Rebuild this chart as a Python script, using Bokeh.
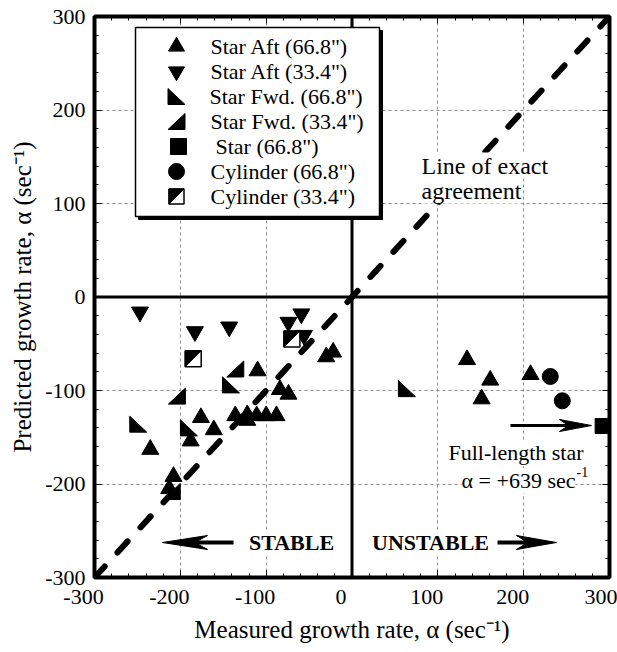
from bokeh.plotting import figure
from bokeh.models import Range1d, LinearAxis, SingleIntervalTicker, Span, Label
from bokeh.embed import file_html
from bokeh.resources import INLINE

# ---------------- data ----------------
star_aft_66_x = [-110, -30, -22, -84, -74, -176, -235, -188, -161, -136, -122, -111, -100, -88, -122, -208, -213, 134, 161, 151, 208]
star_aft_66_y = [-79, -64, -59, -99, -104, -129, -163, -154, -142, -127, -126, -127, -127, -127, -132, -192, -205, -67, -89, -109, -83]

star_aft_33_x = [-247, -183, -143, -59, -74, -56]
star_aft_33_y = [-16, -37, -32, -18, -27, -41]

star_fwd_66_x = [-141, -249, -190, 64]
star_fwd_66_y = [-94, -136, -140, -98]

star_fwd_33_x = [-136, -204, -210]
star_fwd_33_y = [-77, -106, -208]

star_66_x = [292]
star_66_y = [-138]

cyl_66_x = [231, 245]
cyl_66_y = [-85, -111]

cyl_33_x = [-185, -70]
cyl_33_y = [-66, -45]

agreement_x = [-300, 300]
agreement_y = [-300, 300]

tick_values = [-300, -200, -100, 0, 100, 200, 300]
x_tick_labels = ["-300", "-200", "-100", "0", "100", "200", "300"]
y_tick_labels = ["-300", "-200", "-100", "0", "100", "200", "300"]

x_title = "Measured growth rate, \u03b1 (sec\u207b\u00b9)"
y_title = "Predicted growth rate, \u03b1 (sec\u207b\u00b9)"
legend_labels = ['Star Aft (66.8")', 'Star Aft (33.4")', 'Star Fwd.  (66.8")',
                 'Star Fwd. (33.4")', 'Star (66.8")', 'Cylinder (66.8")', 'Cylinder (33.4")']

# ---------------- layout ----------------
W, H = 617, 652
BL, BR, BT, BB = 94, 8, 16, 75
FW, FH = W - BL - BR, H - BT - BB
X0, Y0 = BL, BT
XS, YS = FW / 600.0, FH / 600.0


def dx(X):
    return (X - X0) / XS - 300


def dy(Y):
    return 300 - (Y - Y0) / YS


FONT = "Liberation Serif"

p = figure(width=W, height=H, x_range=Range1d(-300, 300), y_range=Range1d(-300, 300),
           output_backend="svg", toolbar_location=None,
           min_border_left=BL, min_border_right=BR, min_border_top=BT, min_border_bottom=BB,
           background_fill_color="white", border_fill_color="white")

ticker = SingleIntervalTicker(interval=100, num_minor_ticks=5)
for ax in (p.xaxis[0], p.yaxis[0]):
    ax.ticker = ticker
    ax.axis_line_color = None
    ax.major_tick_in = 7
    ax.major_tick_out = 0
    ax.minor_tick_in = 4
    ax.minor_tick_out = 0
    ax.major_tick_line_color = "black"
    ax.minor_tick_line_color = "black"
    ax.major_label_text_font = FONT
    ax.major_label_text_font_size = "22px"
    ax.major_label_text_color = "black"
    ax.axis_label_text_font = FONT
    ax.axis_label_text_font_size = "25px"
    ax.axis_label_text_font_style = "normal"
    ax.axis_label_text_color = "black"

p.xaxis.axis_label = x_title
p.yaxis.axis_label = y_title
p.xaxis.major_label_standoff = 6
p.yaxis.major_label_standoff = 9
p.xaxis.axis_label_standoff = 4
p.yaxis.axis_label_standoff = 6
# labels sit slightly left of their ticks in the reference (last one is kept inside the canvas)
p.xaxis.major_label_overrides = {v: (lab + "\u00a0" * 4 if v < 300 else lab)
                                 for v, lab in zip(tick_values, x_tick_labels)}
p.yaxis.major_label_overrides = {v: lab for v, lab in zip(tick_values, y_tick_labels)}

for loc in ("above", "right"):
    ax = LinearAxis(ticker=ticker, axis_line_color=None,
                    major_label_text_font_size="0px", major_label_standoff=0,
                    major_label_overrides={v: "" for v in tick_values},
                    major_tick_in=7, major_tick_out=0, minor_tick_in=4, minor_tick_out=0,
                    major_tick_line_color="black", minor_tick_line_color="black")
    p.add_layout(ax, loc)

p.grid.grid_line_color = "#8c8c8c"
p.grid.grid_line_dash = "3 3"
p.grid.grid_line_width = 1
p.outline_line_color = "black"
p.outline_line_width = 4

p.add_layout(Span(location=0, dimension="height", line_color="black", line_width=3, level="underlay"))
p.add_layout(Span(location=0, dimension="width", line_color="black", line_width=3, level="underlay"))

# line of exact agreement
p.line(agreement_x, agreement_y, line_width=6, line_dash="15 19", line_cap="round", color="black")

# ---------------- markers ----------------
TRI = 17
HX, HY = 8.5 / XS, 8.0 / YS


def draw_star_fwd_66(xs, ys):  # right angle bottom-left
    p.patches([[x - HX, x - HX, x + HX] for x in xs],
              [[y + HY, y - HY, y - HY] for y in ys], color="black")


def draw_star_fwd_33(xs, ys):  # right angle bottom-right
    p.patches([[x + HX, x + HX, x - HX] for x in xs],
              [[y + HY, y - HY, y - HY] for y in ys], color="black")


def draw_cyl_33(xs, ys, size=16):
    p.scatter(xs, ys, marker="square", size=size, fill_color="white", line_color="black", line_width=1.5)
    h, v = (size / 2) / XS, (size / 2) / YS
    p.patches([[x - h, x - h, x + h] for x in xs],
              [[y - v, y + v, y + v] for y in ys], color="black")


p.scatter(star_aft_66_x, star_aft_66_y, marker="triangle", size=TRI, color="black")
p.scatter(star_aft_33_x, star_aft_33_y, marker="inverted_triangle", size=TRI, color="black")
draw_star_fwd_66(star_fwd_66_x, star_fwd_66_y)
draw_star_fwd_33(star_fwd_33_x, star_fwd_33_y)
p.scatter(star_66_x, star_66_y, marker="square", size=15, color="black")
p.scatter(cyl_66_x, cyl_66_y, marker="circle", size=16, color="black")
draw_cyl_33(cyl_33_x, cyl_33_y)

# ---------------- legend ----------------
LX0, LX1, LY0, LY1 = 135, 379, 27, 216
p.quad(left=dx(LX0 + 3), right=dx(LX1 + 3), top=dy(LY0 + 3), bottom=dy(LY1 + 3), color="black")
p.quad(left=dx(LX0), right=dx(LX1), top=dy(LY0), bottom=dy(LY1),
       fill_color="white", line_color="black", line_width=1.5)

rows = [46 + 25 * i for i in range(7)]
text_x = [210, 210, 209, 210, 215, 210, 210]
mx = dx(176)
p.scatter([mx], [dy(rows[0])], marker="triangle", size=16, color="black")
p.scatter([mx], [dy(rows[1])], marker="inverted_triangle", size=16, color="black")
draw_star_fwd_66([mx], [dy(rows[2])])
draw_star_fwd_33([mx], [dy(rows[3])])
p.scatter([dx(178)], [dy(rows[4])], marker="square", size=16, color="black")
p.scatter([mx], [dy(rows[5])], marker="circle", size=16, color="black")
draw_cyl_33([mx], [dy(rows[6])], size=15)

for lab, ry, tx in zip(legend_labels, rows, text_x):
    p.add_layout(Label(x=dx(tx), y=dy(ry), text=lab, text_font=FONT, text_font_size="22px",
                       text_align="left", text_baseline="middle", text_color="black"))

# ---------------- annotations ----------------
def text(X, Y, s, size="22px", align="left", baseline="alphabetic", style="normal", bg="white"):
    p.add_layout(Label(x=dx(X), y=dy(Y), text=s, text_font=FONT, text_font_size=size,
                       text_align=align, text_baseline=baseline, text_font_style=style,
                       text_color="black", background_fill_color=bg))


text(421, 165, "Line of exact", size="24px")
text(421, 190, "agreement", size="24px")
text(515.5, 452, "Full-length star", align="center")
text(575, 480, "\u03b1 = +639 sec", align="right")
text(576, 471, "-1", size="14px", bg=None)
text(291, 542, "STABLE", align="center", baseline="middle", style="bold")
text(430, 542, "UNSTABLE", align="center", baseline="middle", style="bold")


def draw_arrow(Xtail, Xtip, Y, L, w, sw):
    d = 1 if Xtip > Xtail else -1
    p.line([dx(Xtail), dx(Xtip - d * L * 0.7)], [dy(Y), dy(Y)], line_width=sw, color="black")
    p.patch([dx(Xtip), dx(Xtip - d * L), dx(Xtip - d * L * 0.72), dx(Xtip - d * L)],
            [dy(Y), dy(Y - w), dy(Y), dy(Y + w)], color="black")


draw_arrow(233, 162, 542, 45, 7, 4)
draw_arrow(497, 556, 542, 40, 7, 4)
draw_arrow(510, 591, 425, 32, 6, 3)

open("out.html", "w").write(file_html(p, INLINE))
